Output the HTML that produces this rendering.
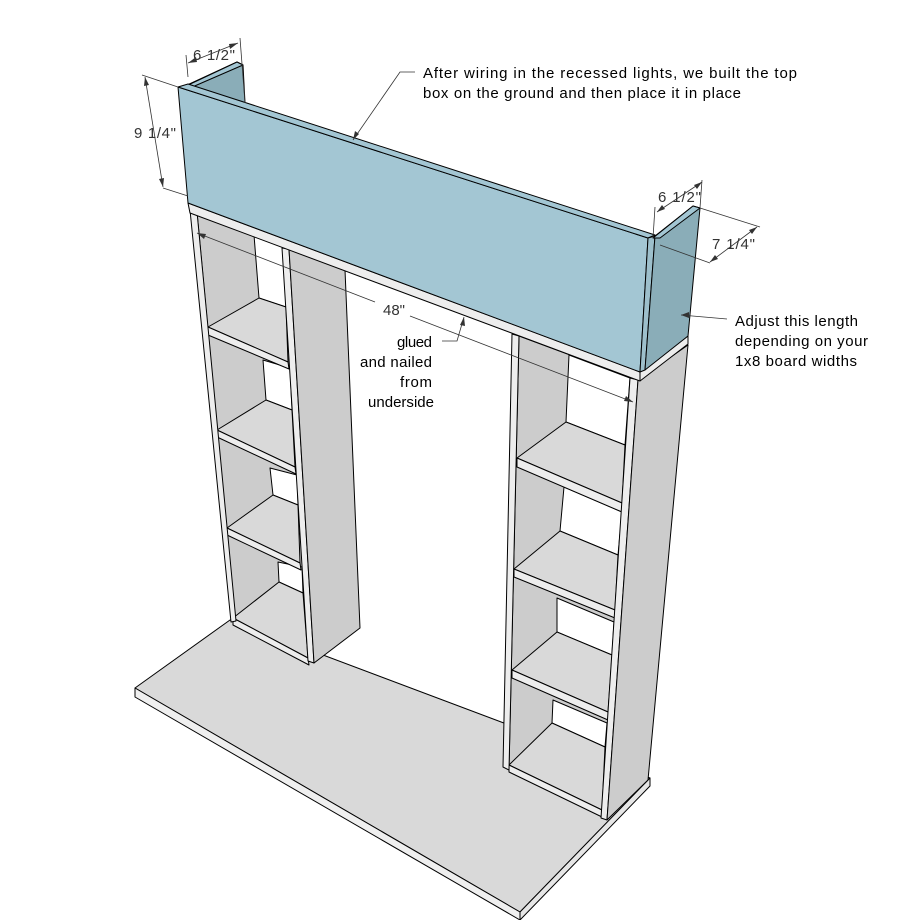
<!DOCTYPE html>
<html><head><meta charset="utf-8"><style>
html,body{margin:0;padding:0;background:#fff;}
svg{display:block;}
text{font-family:"Liberation Sans",sans-serif;font-size:15px;fill:#000;}
.d{fill:#333;font-size:15px;}
</style></head><body>
<svg width="911" height="920" viewBox="0 0 911 920" xmlns="http://www.w3.org/2000/svg">
<g stroke="#000" stroke-width="1" stroke-linejoin="round">
<polygon points="135,688 230,620 650,778 520,912" fill="#d9d9d9"/>
<polygon points="135,688 520,912 520,920 135,697" fill="#efefef"/>
<polygon points="520,912 650,778 650,786 520,920" fill="#e6e6e6"/>

<polygon points="197,212 283,245 313,662 235,620" fill="#cccccc"/>
<polygon points="254,235 284,245 286,307 259,298" fill="#fff"/>
<polygon points="263,360 290,368 292,410 266,400" fill="#fff"/>
<polygon points="270,468 297,475 298,505 273,495" fill="#fff"/>
<polygon points="278,562 302,567 303,593 279,582" fill="#fff"/>
<polygon points="208,327 259,298 286,307 288,362" fill="#d9d9d9"/>
<polygon points="208,327 288,362 289,369 208,335" fill="#ededed"/>
<polygon points="217,430 266,400 292,410 295,467" fill="#d9d9d9"/>
<polygon points="217,430 295,467 296,474 217,437" fill="#ededed"/>
<polygon points="227,528 273,495 298,505 300,563" fill="#d9d9d9"/>
<polygon points="227,528 300,563 301,570 227,535" fill="#ededed"/>
<polygon points="233,618 279,582 303,593 308,658" fill="#d9d9d9"/>
<polygon points="233,618 308,658 309,665 233,625" fill="#ededed"/>
<polygon points="190,210 197,212 236,621 231,622" fill="#ededed"/>
<polygon points="282,248 289,249 314,663 308,661" fill="#ededed"/>
<polygon points="289,249 345,270 360,628 314,663" fill="#cccccc"/>

<polygon points="519,336 632,378 603,815 509,768" fill="#cccccc"/>
<polygon points="569,355 630,378 625,445 566,422" fill="#fff"/>
<polygon points="564,487 622,512 618,555 560,531" fill="#fff"/>
<polygon points="557,598 614,622 612,655 557,632" fill="#fff"/>
<polygon points="553,700 607,723 605,747 552,723" fill="#fff"/>
<polygon points="517,458 566,422 625,445 622,503" fill="#d9d9d9"/>
<polygon points="517,458 622,503 622,512 517,467" fill="#ededed"/>
<polygon points="514,569 560,531 618,555 615,610" fill="#d9d9d9"/>
<polygon points="514,569 615,610 615,618 514,577" fill="#ededed"/>
<polygon points="512,670 557,632 612,655 608,712" fill="#d9d9d9"/>
<polygon points="512,670 608,712 608,720 512,678" fill="#ededed"/>
<polygon points="509,765 552,723 605,747 602,810" fill="#d9d9d9"/>
<polygon points="509,765 602,810 602,817 509,772" fill="#ededed"/>
<polygon points="512,334 519,336 509,770 503,767" fill="#ededed"/>
<polygon points="630,378 638,380 607,820 601,818" fill="#ededed"/>
<polygon points="638,380 688,345 648,780 607,820" fill="#cccccc"/>

<polygon points="188,203 640,372 640,381 190,213" fill="#ededed"/>
<polygon points="640,372 688,336 688,344 640,381" fill="#ededed"/>

<polygon points="185,86 237,62 243,65 245,103" fill="#8aadb8"/>
<polygon points="186,86 237,62 243,65 190,88" fill="#a3c6d3"/>
<polygon points="178,87 648,238 640,372 188,203" fill="#a3c6d3"/>
<polygon points="178,87 188,84 655,235 648,238" fill="#a3c6d3"/>
<polygon points="648,238 655,236 645,370 640,372" fill="#9dbfcb"/>
<polygon points="655,236 693,206 700,208 688,336 645,370" fill="#8aadb8"/>
<polygon points="653,238 693,206 700,208 660,238" fill="#a3c6d3"/>
</g>

<g stroke="#333" stroke-width="0.8" fill="none">
<line x1="188" y1="77" x2="186" y2="55"/>
<line x1="245" y1="103" x2="240" y2="38"/>
<line x1="188" y1="63" x2="238" y2="43"/>
<line x1="142" y1="75" x2="178" y2="87"/>
<line x1="163" y1="188" x2="188" y2="196"/>
<line x1="145" y1="77" x2="163" y2="187"/>
<line x1="197" y1="233" x2="375" y2="302"/>
<line x1="410" y1="316" x2="633" y2="402"/>
<line x1="655" y1="207" x2="653" y2="238"/>
<line x1="700" y1="208" x2="702" y2="180"/>
<line x1="657" y1="212" x2="702" y2="182"/>
<line x1="700" y1="208" x2="760" y2="227"/>
<line x1="660" y1="245" x2="710" y2="263"/>
<line x1="710" y1="262" x2="757" y2="227"/>
<polyline points="415,72 400,72 353,140"/>
<polyline points="442,341 457,341 464,317"/>
<line x1="727" y1="319" x2="681" y2="315"/>
</g>
<g fill="#333">
<polygon points="188,63 196,57 197,62"/>
<polygon points="238,43 230,49 229,44"/>
<polygon points="145,77 149,85 144,86"/>
<polygon points="163,187 159,179 164,178"/>
<polygon points="197,233 206,234 204,239"/>
<polygon points="633,402 624,401 626,396"/>
<polygon points="657,212 662,205 665,209"/>
<polygon points="702,182 697,189 694,185"/>
<polygon points="710,262 715,255 718,259"/>
<polygon points="757,227 752,234 749,230"/>
<polygon points="353,140 355,131 359,134"/>
<polygon points="464,317 465,326 460,325"/>
<polygon points="681,315 689,312 689,318"/>
</g>

<text class="d" x="193" y="60" textLength="42">6 1/2"</text>
<text class="d" x="134" y="138" textLength="42">9 1/4"</text>
<text class="d" x="383" y="315" textLength="22">48"</text>
<text class="d" x="658" y="202" textLength="43">6 1/2"</text>
<text class="d" x="712" y="249" textLength="43">7 1/4"</text>

<text x="423" y="78" textLength="374">After wiring in the recessed lights, we built the top</text>
<text x="423" y="98" textLength="318">box on the ground and then place it in place</text>
<text x="397" y="347" textLength="35">glued</text>
<text x="360" y="367" textLength="72">and nailed</text>
<text x="400" y="387" textLength="32">from</text>
<text x="368" y="407" textLength="66">underside</text>
<text x="735" y="326" textLength="123">Adjust this length</text>
<text x="735" y="346" textLength="133">depending on your</text>
<text x="735" y="366" textLength="122">1x8 board widths</text>
</svg>
</body></html>
